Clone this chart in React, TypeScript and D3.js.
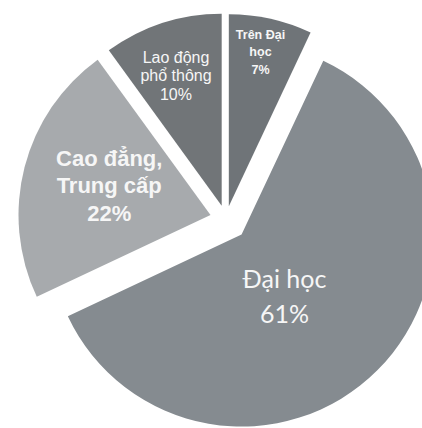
import React from "react";
import * as d3 from "d3";

const categories = ["Trên Đại học", "Đại học", "Cao đẳng, Trung cấp", "Lao động phổ thông"];
const values = [7, 61, 22, 10];
const labelLines = [
  ["Trên Đại", "học", "7%"],
  ["Đại học", "61%"],
  ["Cao đẳng,", "Trung cấp", "22%"],
  ["Lao động", "phổ thông", "10%"],
];

const colors = ["#6f7478", "#858b90", "#a7aaad", "#717578"];
const explode = [13, 22, 16, 14];
const labelRadiusFrac = [0.82, 0.39, 0.55, 0.72];
const labelAngleShift = [-1, 10, 2, -1.3];
const fontSizes = [12.5, 25, 22, 16];
const lineHeights = [17.5, 35, 27.5, 18.5];
const fontWeights = [700, 400, 700, 400];
const fontFamilies = ["'Liberation Sans', Arial, sans-serif", "Lato, sans-serif", "'Liberation Sans', Arial, sans-serif", "'Liberation Sans', Arial, sans-serif"];

const W = 422;
const H = 428;
const R = 192;
const CX = 226;
const CY = 219;

export default function App() {
  const pie = d3.pie<number>().sort(null).value((d) => d).startAngle(0).endAngle(2 * Math.PI);
  const arcs = pie(values);
  const arcGen = d3.arc<d3.PieArcDatum<number>>().innerRadius(0).outerRadius(R);

  return (
    <div style={{ position: "absolute", left: 0, top: 0 }}>
      <svg width={W} height={H} style={{ display: "block", background: "#ffffff" }}>
        <g transform={`translate(${CX},${CY})`}>
          {arcs.map((a, i) => {
            const mid = (a.startAngle + a.endAngle) / 2;
            const ox = Math.sin(mid) * explode[i];
            const oy = -Math.cos(mid) * explode[i];
            const la = mid + (labelAngleShift[i] * Math.PI) / 180;
            const lr = R * labelRadiusFrac[i];
            const lx = Math.sin(la) * lr;
            const ly = -Math.cos(la) * lr;
            const lines = labelLines[i];
            const lh = lineHeights[i];
            const startY = ly - ((lines.length - 1) * lh) / 2;
            return (
              <g key={categories[i]} transform={`translate(${ox},${oy})`}>
                <path d={arcGen(a) || ""} fill={colors[i]} />
                <text
                  textAnchor="middle"
                  fill="#f6f6f6"
                  fontSize={fontSizes[i]}
                  fontWeight={fontWeights[i]}
                  fontFamily={fontFamilies[i]}
                  dominantBaseline="central"
                >
                  {lines.map((t, j) => (
                    <tspan key={j} x={lx} y={startY + j * lh}>
                      {t}
                    </tspan>
                  ))}
                </text>
              </g>
            );
          })}
        </g>
      </svg>
    </div>
  );
}
